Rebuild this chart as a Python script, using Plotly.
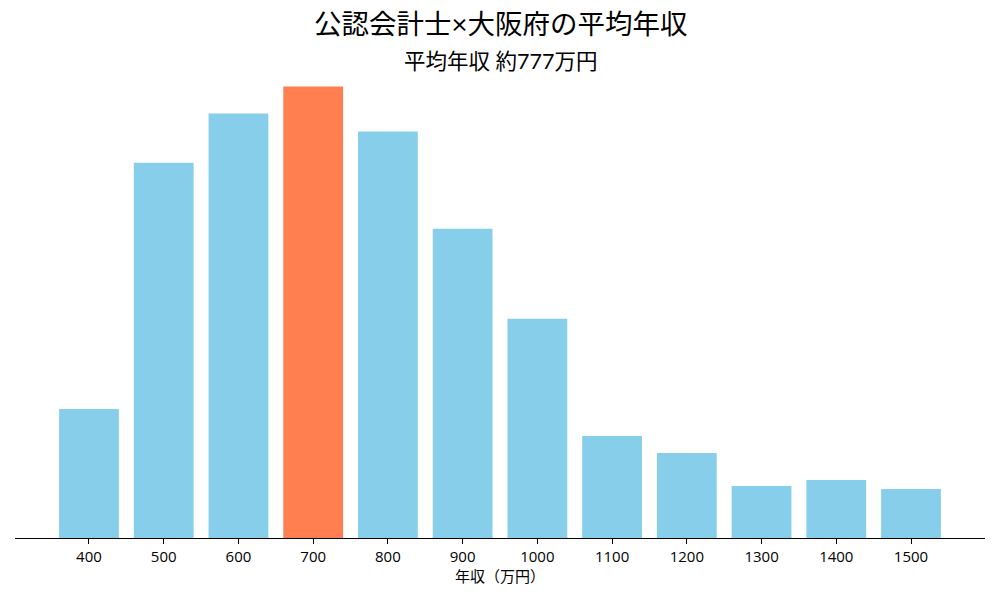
import plotly.graph_objects as go

categories = [400, 500, 600, 700, 800, 900, 1000, 1100, 1200, 1300, 1400, 1500]
values = [129, 375, 424, 451, 406, 309, 219, 102, 85, 52, 58, 49]
highlight = 700
tick_labels = [str(c) for c in categories]

colors = ["#FF7F50" if c == highlight else "#87CEEB" for c in categories]

font_family = "Lato, Noto Sans CJK JP, sans-serif"
tick_family = "Open Sans, Lato, sans-serif"

# page body has an 8px default margin; figure is sized to fill the rest
W, H = 992, 592
OFF = 8
plot_left, plot_right, plot_top, plot_bottom = 15, 985, 64, 538
plot_h = plot_bottom - plot_top

fig = go.Figure(
    go.Bar(x=categories, y=values, marker=dict(color=colors, line=dict(width=0)), width=80)
)

fig.update_layout(
    width=W,
    height=H,
    plot_bgcolor="white",
    paper_bgcolor="white",
    margin=dict(l=plot_left - OFF, r=W - (plot_right - OFF), t=plot_top - OFF,
                b=H - (plot_bottom - OFF), pad=0),
    font=dict(family=font_family, color="black"),
    showlegend=False,
    annotations=[
        dict(
            text="公認会計士×大阪府の平均年収",
            xref="paper", yref="paper",
            x=0.5, y=(plot_bottom - 23) / plot_h,
            xanchor="center", yanchor="middle",
            showarrow=False,
            font=dict(size=27.5, color="black", family=font_family),
        ),
        dict(
            text="平均年収 約777万円",
            xref="paper", yref="paper",
            x=0.5, y=(plot_bottom - 61) / plot_h,
            xanchor="center", yanchor="middle",
            showarrow=False,
            font=dict(size=21.5, color="black", family=font_family),
        ),
        dict(
            text="年収（万円）",
            xref="paper", yref="paper",
            x=0.5, y=-(576 - plot_bottom) / plot_h,
            xanchor="center", yanchor="middle",
            showarrow=False,
            font=dict(size=15, color="black", family=font_family),
        ),
    ],
    xaxis=dict(
        range=[301, 1599],
        tickvals=categories,
        ticktext=tick_labels,
        showline=True,
        linecolor="black",
        linewidth=1.2,
        ticks="outside",
        ticklen=5,
        tickwidth=1,
        tickcolor="black",
        showgrid=False,
        zeroline=False,
        tickfont=dict(size=15, family=tick_family),
    ),
    yaxis=dict(
        visible=False,
        range=[0, max(values) * 1.05],
    ),
)

fig.write_html("out.html")
